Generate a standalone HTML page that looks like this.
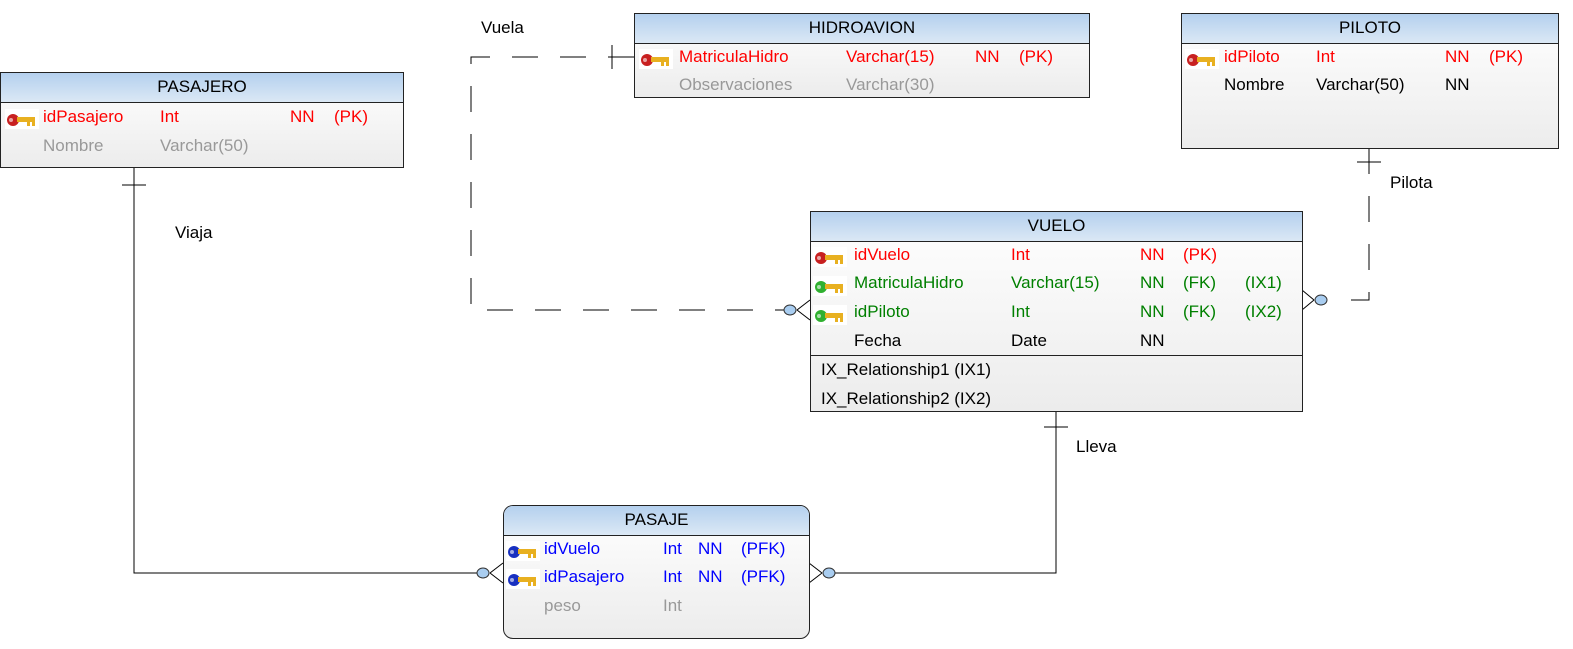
<!DOCTYPE html>
<html><head><meta charset="utf-8"><style>
body{margin:0;width:1573px;height:649px;background:#fff;position:relative;overflow:hidden;font-family:"Liberation Sans",sans-serif;font-size:17px}
.t{position:absolute;border:1px solid #222;background:linear-gradient(#fff,#ececec);box-sizing:border-box}
.h{height:29px;line-height:28px;text-align:center;background:linear-gradient(#b4d0ee,#dbe8f5);border-bottom:1px solid #222;color:#000}
.r{position:absolute;white-space:nowrap;line-height:20px}
.lbl{position:absolute;font-size:17px}
.k{position:absolute;width:34px;height:20px}
</style></head><body>
<svg width="1573" height="649" style="position:absolute;left:0;top:0">
<defs>
<g id="key"><rect x="0" y="0" width="34" height="22" fill="#fff"/><circle cx="8" cy="11" r="6" fill="currentColor"/><rect x="12" y="8" width="18" height="5" fill="#e8b020"/><rect x="22" y="13" width="3" height="4" fill="#e8b020"/><rect x="27" y="13" width="3" height="4" fill="#e8b020"/><circle cx="6" cy="11" r="2" fill="#fff" opacity=".6"/></g>
</defs>
<g stroke="#000" stroke-width="1" fill="none">
<path d="M634 57 H471 V310 H790" stroke-dasharray="26,22"/>
<line x1="612" y1="45" x2="612" y2="69"/>
<path d="M1369 148 V300 H1330" stroke-dasharray="26,22"/>
<line x1="1357" y1="162" x2="1381" y2="162"/>
<path d="M134 167 V573 H483"/>
<line x1="122" y1="185" x2="146" y2="185"/>
<path d="M1056 411 V573 H829"/>
<line x1="1044" y1="427" x2="1068" y2="427"/>
<path d="M797 310 L810 300 M797 310 L810 320"/>
<path d="M1314 300 L1302 290 M1314 300 L1302 310"/>
<path d="M490 573 L503 563 M490 573 L503 583"/>
<path d="M822 573 L809 563 M822 573 L809 583"/>
</g>
<g fill="#a9cdf0" stroke="#333">
<ellipse cx="790" cy="310" rx="6" ry="5"/>
<ellipse cx="1321" cy="300" rx="6" ry="5"/>
<ellipse cx="483" cy="573" rx="6" ry="5"/>
<ellipse cx="829" cy="573" rx="6" ry="5"/>
</g>
</svg>
<div class="lbl" style="left:481px;top:18px">Vuela</div>
<div class="lbl" style="left:175px;top:223px">Viaja</div>
<div class="lbl" style="left:1390px;top:173px">Pilota</div>
<div class="lbl" style="left:1076px;top:437px">Lleva</div>

<div class="t" style="left:0;top:72px;width:404px;height:96px"><div class="h">PASAJERO</div>
<svg class="k" style="left:4px;top:36px;color:#c82020"><use href="#key"/></svg>
<div class="r" style="left:42px;top:34px;color:#f00">idPasajero</div><div class="r" style="left:159px;top:34px;color:#f00">Int</div><div class="r" style="left:289px;top:34px;color:#f00">NN</div><div class="r" style="left:333px;top:34px;color:#f00">(PK)</div>
<div class="r" style="left:42px;top:63px;color:#999">Nombre</div><div class="r" style="left:159px;top:63px;color:#999">Varchar(50)</div>
</div>

<div class="t" style="left:634px;top:13px;width:456px;height:85px"><div class="h">HIDROAVION</div>
<svg class="k" style="left:4px;top:35px;color:#c82020"><use href="#key"/></svg>
<div class="r" style="left:44px;top:33px;color:#f00">MatriculaHidro</div><div class="r" style="left:211px;top:33px;color:#f00">Varchar(15)</div><div class="r" style="left:340px;top:33px;color:#f00">NN</div><div class="r" style="left:384px;top:33px;color:#f00">(PK)</div>
<div class="r" style="left:44px;top:61px;color:#999">Observaciones</div><div class="r" style="left:211px;top:61px;color:#999">Varchar(30)</div>
</div>

<div class="t" style="left:1181px;top:13px;width:378px;height:136px"><div class="h">PILOTO</div>
<svg class="k" style="left:3px;top:35px;color:#c82020"><use href="#key"/></svg>
<div class="r" style="left:42px;top:33px;color:#f00">idPiloto</div><div class="r" style="left:134px;top:33px;color:#f00">Int</div><div class="r" style="left:263px;top:33px;color:#f00">NN</div><div class="r" style="left:307px;top:33px;color:#f00">(PK)</div>
<div class="r" style="left:42px;top:61px;color:#000">Nombre</div><div class="r" style="left:134px;top:61px;color:#000">Varchar(50)</div><div class="r" style="left:263px;top:61px;color:#000">NN</div>
</div>

<div class="t" style="left:810px;top:211px;width:493px;height:201px"><div class="h">VUELO</div>
<div style="position:absolute;left:0;right:0;top:143px;border-top:1px solid #222"></div>
<svg class="k" style="left:2px;top:35px;color:#c82020"><use href="#key"/></svg>
<svg class="k" style="left:2px;top:64px;color:#30b030"><use href="#key"/></svg>
<svg class="k" style="left:2px;top:93px;color:#30b030"><use href="#key"/></svg>
<div class="r" style="left:43px;top:33px;color:#f00">idVuelo</div><div class="r" style="left:200px;top:33px;color:#f00">Int</div><div class="r" style="left:329px;top:33px;color:#f00">NN</div><div class="r" style="left:372px;top:33px;color:#f00">(PK)</div>
<div class="r" style="left:43px;top:61px;color:#008000">MatriculaHidro</div><div class="r" style="left:200px;top:61px;color:#008000">Varchar(15)</div><div class="r" style="left:329px;top:61px;color:#008000">NN</div><div class="r" style="left:372px;top:61px;color:#008000">(FK)</div><div class="r" style="left:434px;top:61px;color:#008000">(IX1)</div>
<div class="r" style="left:43px;top:90px;color:#008000">idPiloto</div><div class="r" style="left:200px;top:90px;color:#008000">Int</div><div class="r" style="left:329px;top:90px;color:#008000">NN</div><div class="r" style="left:372px;top:90px;color:#008000">(FK)</div><div class="r" style="left:434px;top:90px;color:#008000">(IX2)</div>
<div class="r" style="left:43px;top:119px;color:#000">Fecha</div><div class="r" style="left:200px;top:119px;color:#000">Date</div><div class="r" style="left:329px;top:119px;color:#000">NN</div>
<div class="r" style="left:10px;top:148px;color:#000">IX_Relationship1 (IX1)</div>
<div class="r" style="left:10px;top:177px;color:#000">IX_Relationship2 (IX2)</div>
</div>

<div class="t" style="left:503px;top:505px;width:307px;height:134px;border-radius:10px;overflow:hidden"><div class="h">PASAJE</div>
<svg class="k" style="left:2px;top:35px;color:#1830c0"><use href="#key"/></svg>
<svg class="k" style="left:2px;top:63px;color:#1830c0"><use href="#key"/></svg>
<div class="r" style="left:40px;top:33px;color:#00f">idVuelo</div><div class="r" style="left:159px;top:33px;color:#00f">Int</div><div class="r" style="left:194px;top:33px;color:#00f">NN</div><div class="r" style="left:237px;top:33px;color:#00f">(PFK)</div>
<div class="r" style="left:40px;top:61px;color:#00f">idPasajero</div><div class="r" style="left:159px;top:61px;color:#00f">Int</div><div class="r" style="left:194px;top:61px;color:#00f">NN</div><div class="r" style="left:237px;top:61px;color:#00f">(PFK)</div>
<div class="r" style="left:40px;top:90px;color:#999">peso</div><div class="r" style="left:159px;top:90px;color:#999">Int</div>
</div>
</body></html>
